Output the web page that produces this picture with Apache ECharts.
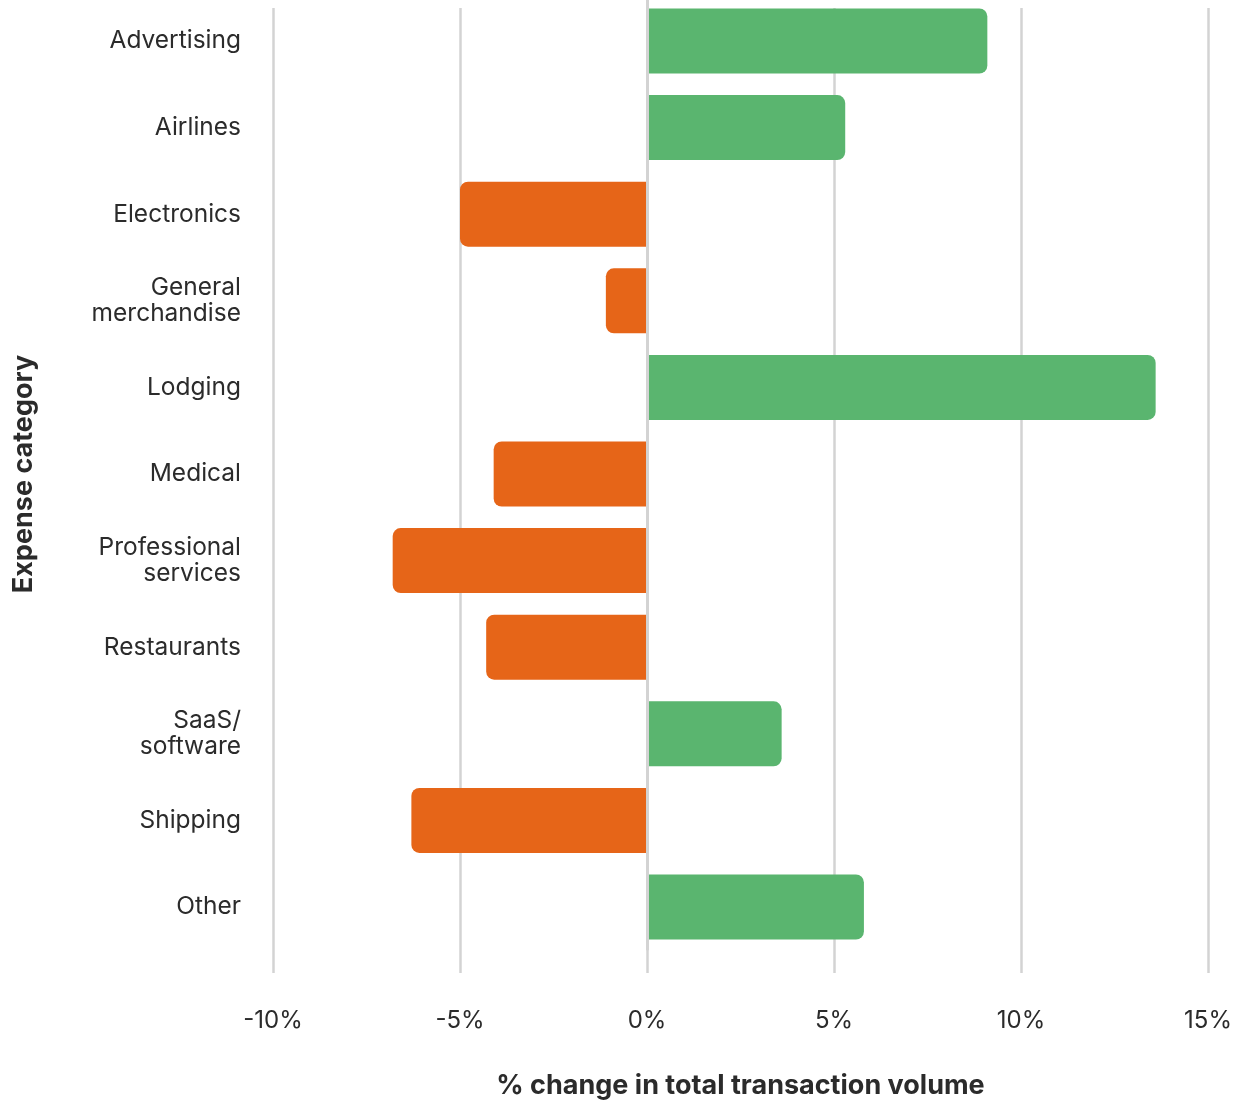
<!DOCTYPE html>
<html>
<head>
<meta charset="utf-8">
<script src="https://cdn.jsdelivr.net/npm/echarts@6/dist/echarts.min.js"></script>
<style>
  html, body { margin: 0; padding: 0; background: #fff; }
  #chart { width: 1247px; height: 1101px; }
</style>
</head>
<body>
<div id="chart"></div>
<script>
// Expense categories, top to bottom
const categories = [
  'Advertising', 'Airlines', 'Electronics', 'General\nmerchandise', 'Lodging',
  'Medical', 'Professional\nservices', 'Restaurants', 'SaaS/\nsoftware', 'Shipping', 'Other'
];
// % change in total transaction volume
const changes = [9.1, 5.3, -5.0, -1.1, 13.6, -4.1, -6.8, -4.3, 3.6, -6.3, 5.8];
const xTicks = [-10, -5, 0, 5, 10, 15];

const GREEN = '#5ab56f';
const ORANGE = '#e66518';
const TEXT = '#2b2b2b';
const FONT = 'Inter, "Noto Sans", sans-serif';

const barData = changes.map(v => ({
  value: v,
  itemStyle: {
    color: v >= 0 ? GREEN : ORANGE,
    borderRadius: v >= 0 ? [0, 8, 8, 0] : [8, 0, 0, 8]
  }
}));

const chart = echarts.init(document.getElementById('chart'), null, { renderer: 'canvas' });
chart.setOption({
  animation: false,
  textStyle: { fontFamily: FONT },
  grid: [
    // grid 0: vertical reference lines and x-axis labels
    { left: 273, right: 39, top: 8, height: 965, outerBoundsMode: 'none', containLabel: false },
    // grid 1: the bars and category labels
    { left: 273, right: 39, top: -2.3, height: 952.6, outerBoundsMode: 'none', containLabel: false }
  ],
  xAxis: [
    {
      gridIndex: 0, type: 'value',
      min: xTicks[0], max: xTicks[xTicks.length - 1], interval: 5,
      axisLine: { show: false }, axisTick: { show: false },
      splitLine: { show: true, lineStyle: { color: '#d3d3d3', width: 2.5 } },
      axisLabel: {
        margin: 36, fontSize: 24, color: TEXT, fontFamily: FONT,
        formatter: v => v + '%'
      },
      name: '% change in total transaction volume',
      nameLocation: 'middle', nameGap: 99,
      nameTextStyle: { fontSize: 27, fontWeight: 'bold', color: TEXT, fontFamily: FONT }
    },
    {
      gridIndex: 1, type: 'value',
      min: xTicks[0], max: xTicks[xTicks.length - 1], interval: 5,
      show: false, splitLine: { show: false }
    }
  ],
  yAxis: [
    { gridIndex: 0, type: 'value', show: false, splitLine: { show: false } },
    {
      gridIndex: 1, type: 'category', data: categories, inverse: true,
      axisLine: { show: false }, axisTick: { show: false },
      axisLabel: {
        margin: 32, fontSize: 24.5, lineHeight: 26, color: TEXT, fontFamily: FONT, align: 'right'
      },
      name: 'Expense category',
      nameLocation: 'middle', nameGap: 236, nameRotate: 90,
      nameTextStyle: { fontSize: 27, fontWeight: 'bold', color: TEXT, fontFamily: FONT }
    }
  ],
  series: [
    {
      type: 'bar', xAxisIndex: 1, yAxisIndex: 1,
      data: barData, barWidth: 65,
      markLine: {
        silent: true, symbol: 'none', label: { show: false },
        lineStyle: { color: '#d3d3d3', width: 3, type: 'solid' },
        data: [{ xAxis: 0 }]
      }
    }
  ]
});
</script>
</body>
</html>
